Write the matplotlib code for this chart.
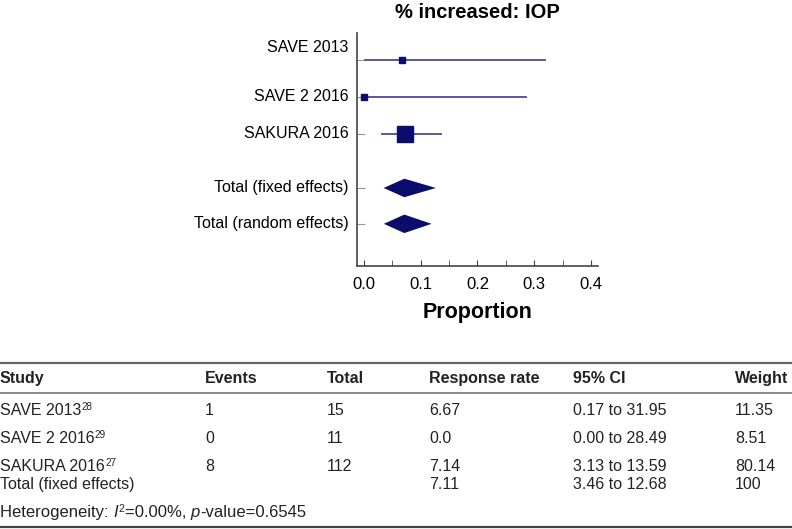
import matplotlib
matplotlib.use("Agg")
import matplotlib.pyplot as plt
import numpy as np

plt.rcParams['font.family'] = ['Liberation Sans', 'DejaVu Sans']

# forest plot data (proportions)
studies = ['SAVE 2013', 'SAVE 2 2016', 'SAKURA 2016']
est = [0.0667, 0.0, 0.0714]
lo = [0.0017, 0.0, 0.0313]
hi = [0.3195, 0.2849, 0.1359]
weight = [11.35, 8.51, 80.14]
pooled = ['Total (fixed effects)', 'Total (random effects)']
pooled_est = [0.0711, 0.0711]
pooled_lo = [0.0346, 0.0350]
pooled_hi = [0.1268, 0.1190]

# table data
headers = ['Study', 'Events', 'Total', 'Response rate', '95% CI', 'Weight']
col_study = ['SAVE 2013', 'SAVE 2 2016', 'SAKURA 2016', 'Total (fixed effects)']
refs = ['28', '29', '27', '']
col_events = ['1', '0', '8', '']
col_total = ['15', '11', '112', '']
col_rate = ['6.67', '0.0', '7.14', '7.11']
col_ci = ['0.17 to 31.95', '0.00 to 28.49', '3.13 to 13.59', '3.46 to 12.68']
col_weight = ['11.35', '8.51', '80.14', '100']
hetero = [('Heterogeneity: ', 'normal', 0), ('I', 'italic', 0), ('2', 'normal', 1),
          ('=0.00%, ', 'normal', 0), ('p', 'italic', 0), ('-value=0.6545', 'normal', 0)]

W, H = 792, 529
fig = plt.figure(figsize=(W / 100, H / 100), dpi=100)
renderer = fig.canvas.get_renderer()

navy = '#0c0c6c'
linec = '#4b4b97'

# axes placed in pixel terms
l, r, t, b = 357, 598, 33, 266
ax = fig.add_axes([l / W, 1 - b / H, (r - l) / W, (b - t) / H])

ypos = [0, 1, 2, 3.46, 4.43]
for i in range(3):
    ax.plot([lo[i], hi[i]], [ypos[i], ypos[i]], color=linec, lw=1.3, zorder=2)
    ax.plot(est[i], ypos[i], marker='s', color=navy, ms=1.35 * np.sqrt(weight[i]),
            mec=navy, zorder=3)
dh = 0.25
for j in range(2):
    y = ypos[3 + j]
    ax.fill([pooled_lo[j], pooled_est[j], pooled_hi[j], pooled_est[j]],
            [y, y - dh, y, y + dh], color=navy, lw=0, zorder=3)

ax.set_xlim(-0.0123, 0.4123)
ax.set_ylim(5.57, -0.73)
for s in ['top', 'right']:
    ax.spines[s].set_visible(False)
for s in ['left', 'bottom']:
    ax.spines[s].set_color('#444444')
    ax.spines[s].set_linewidth(1.2)

ax.set_xticks([0, 0.1, 0.2, 0.3, 0.4])
ax.set_xticklabels(['0.0', '0.1', '0.2', '0.3', '0.4'])
ax.set_xticks([0.05, 0.15, 0.25, 0.35], minor=True)
ax.tick_params(axis='x', which='both', direction='in', length=4, color='#444444',
               labelsize=12, pad=8)
ax.set_yticks(ypos)
ax.set_yticklabels([])
ax.tick_params(axis='y', direction='in', length=6, color='#999999')
ax.set_xlabel('Proportion', fontsize=15.5, fontweight='bold', labelpad=7)
ax.set_title('% increased: IOP', fontsize=14.5, fontweight='bold', pad=11)

labels = studies + pooled
label_y = [-0.33] + ypos[1:]
for lab, y in zip(labels, label_y):
    ax.text(-0.035, y, lab, transform=ax.get_yaxis_transform(), ha='right',
            va='center', fontsize=11.5)


# table
def fx(px):
    return px / W


def fy(py):
    return 1 - py / H


def pieces(x, y, parts, size=11.5):
    # place text pieces one after another on a common baseline (pixels)
    for txt, style, sup in parts:
        fs = size * 0.62 if sup else size
        yy = y - 5 if sup else y
        tt = fig.text(fx(x), fy(yy), txt, ha='left', va='baseline', fontsize=fs,
                      style=style, color='#222222')
        x = tt.get_window_extent(renderer).x1 + 0.3


cols_x = [0, 205, 327, 429, 573, 735]
hdr_y = 383
for x, h in zip(cols_x, headers):
    fig.text(fx(x), fy(hdr_y), h, ha='left', va='baseline', fontsize=11.5,
             fontweight='bold', color='#222222')

row_y = [415, 443, 471, 489]
columns = [col_events, col_total, col_rate, col_ci, col_weight]
for y, s, rf in zip(row_y, col_study, refs):
    pieces(cols_x[0], y, [(s, 'normal', 0), (rf, 'normal', 1)])
for x, col in zip(cols_x[1:], columns):
    for y, v in zip(row_y, col):
        fig.text(fx(x), fy(y), v, ha='left', va='baseline', fontsize=11.5,
                 color='#222222')
pieces(0, 517, hetero, size=12)

for y, c, w in [(363, '#666666', 1.6), (393, '#888888', 1.4), (527, '#444444', 1.6)]:
    fig.add_artist(plt.Line2D([0, 1], [fy(y), fy(y)], color=c, lw=w))

fig.savefig('out.png', dpi=100)
